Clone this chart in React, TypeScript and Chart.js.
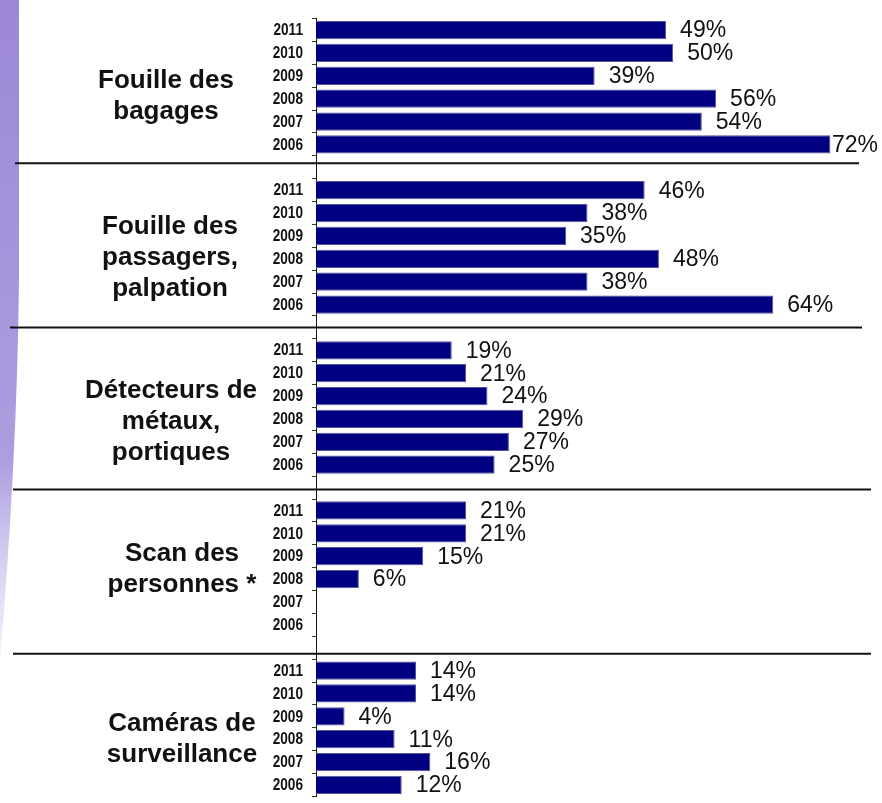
import React, { useEffect, useRef } from 'react';
import { Chart, registerables } from 'chart.js';

Chart.register(...registerables);

// ---------- data ----------
const years = ['2011', '2010', '2009', '2008', '2007', '2006'];
const groupLabels: string[][] = [
  ['Fouille des', 'bagages'],
  ['Fouille des', 'passagers,', 'palpation'],
  ['Détecteurs de', 'métaux,', 'portiques'],
  ['Scan des', 'personnes *'],
  ['Caméras de', 'surveillance'],
];
const fouilleBagages = [49, 50, 39, 56, 54, 72];
const fouillePassagers = [46, 38, 35, 48, 38, 64];
const detecteursMetaux = [19, 21, 24, 29, 27, 25];
const scanPersonnes = [21, 21, 15, 6, null, null];
const camerasSurveillance = [14, 14, 4, 11, 16, 12];
const seriesByGroup: (number | null)[][] = [
  fouilleBagages,
  fouillePassagers,
  detecteursMetaux,
  scanPersonnes,
  camerasSurveillance,
];

// ---------- layout (not data) ----------
const W = 882;
const H = 815;
const GROUP_SIZE = years.length + 1;
const labelCenterX = [166, 170, 171, 182, 182];
const labelBaselineOffset = [58, 44, 48, 51, 60];
const sepOffsetY = [-4, 0, 2, 6];
const sepX0 = [15, 10, 13, 13];
const sepX1 = [859, 862, 871, 871];

const SANS = "'Liberation Sans', Arial, Helvetica, sans-serif";

// build category table with blank separators
const categoryLabels: string[] = [];
const values: (number | null)[] = [];
seriesByGroup.forEach((vals, g) => {
  years.forEach((y, i) => {
    categoryLabels.push(y);
    values.push(vals[i]);
  });
  if (g < seriesByGroup.length - 1) {
    categoryLabels.push('');
    values.push(null);
  }
});

const decorPlugin = {
  id: 'decor',
  beforeDraw(chart: any) {
    const ctx = chart.ctx as CanvasRenderingContext2D;
    ctx.save();
    const grad = ctx.createLinearGradient(0, 0, 0, 660);
    grad.addColorStop(0, '#9c88d6');
    grad.addColorStop(0.7, '#ad9edf');
    grad.addColorStop(1, 'rgba(200,190,240,0.2)');
    ctx.fillStyle = grad;
    ctx.beginPath();
    ctx.moveTo(0, 0);
    ctx.lineTo(19, 0);
    ctx.lineTo(19, 280);
    ctx.quadraticCurveTo(17, 460, 0, 660);
    ctx.closePath();
    ctx.fill();
    ctx.restore();
  },
  afterDatasetsDraw(chart: any) {
    const ctx = chart.ctx as CanvasRenderingContext2D;
    const yScale = chart.scales.y;
    const meta = chart.getDatasetMeta(0);
    const data = chart.data.datasets[0].data as (number | null)[];
    const labels = chart.data.labels as string[];
    ctx.save();
    // condensed year tick labels
    ctx.font = `bold 17px ${SANS}`;
    ctx.fillStyle = '#111';
    ctx.textAlign = 'right';
    ctx.textBaseline = 'middle';
    const sx = 0.8;
    labels.forEach((lab, i) => {
      if (!lab) return;
      const y = yScale.getPixelForValue(i);
      ctx.save();
      ctx.translate(303, y + 0.5);
      ctx.scale(sx, 1);
      ctx.fillText(lab, 0, 0);
      ctx.restore();
    });
    // value labels
    ctx.font = `23px ${SANS}`;
    ctx.textAlign = 'left';
    meta.data.forEach((el: any, i: number) => {
      const v = data[i];
      if (v == null) return;
      const t = `${v}%`;
      const w = ctx.measureText(t).width;
      let x = el.x + 14;
      if (x + w > W - 4) x = W - 4 - w;
      ctx.fillText(t, x, el.y + 1);
    });
    // group labels
    ctx.font = `bold 26px ${SANS}`;
    ctx.textAlign = 'center';
    ctx.textBaseline = 'alphabetic';
    groupLabels.forEach((lines, g) => {
      const base = yScale.getPixelForValue(g * GROUP_SIZE) + labelBaselineOffset[g];
      lines.forEach((line, k) => {
        ctx.fillText(line, labelCenterX[g], base + k * 31);
      });
    });
    // separators
    ctx.strokeStyle = '#111';
    ctx.lineWidth = 2;
    for (let s = 0; s < seriesByGroup.length - 1; s++) {
      const y = yScale.getPixelForValue(s * GROUP_SIZE + years.length) + sepOffsetY[s];
      ctx.beginPath();
      ctx.moveTo(sepX0[s], y);
      ctx.lineTo(sepX1[s], y);
      ctx.stroke();
    }
    ctx.restore();
  },
};

export default function App() {
  const ref = useRef<HTMLCanvasElement | null>(null);
  useEffect(() => {
    if (!ref.current) return;
    const chart = new Chart(ref.current, {
      type: 'bar',
      data: {
        labels: categoryLabels,
        datasets: [
          {
            data: values as any,
            backgroundColor: '#000080',
            borderColor: '#55559a',
            borderWidth: 1,
            categoryPercentage: 1,
            barPercentage: 0.8,
          },
        ],
      },
      options: {
        indexAxis: 'y',
        responsive: false,
        animation: false,
        events: [],
        layout: { padding: { top: 11.7, bottom: 10, left: 0, right: 23 } },
        plugins: { legend: { display: false }, tooltip: { enabled: false }, title: { display: false } },
        scales: {
          x: { display: false, min: 0, max: 76 },
          y: {
            type: 'category',
            afterFit: (s: any) => {
              s.width = 316;
            },
            border: { display: true, color: '#111', width: 1 },
            grid: {
              display: true,
              offset: true,
              drawOnChartArea: false,
              drawTicks: true,
              tickLength: 4,
              color: '#333',
            },
            ticks: {
              autoSkip: false,
              padding: 9,
              color: 'rgba(0,0,0,0)',
              font: { family: SANS, size: 16, weight: 'bold' },
            },
          },
        },
      },
      plugins: [decorPlugin],
    });
    return () => chart.destroy();
  }, []);
  return (
    <div style={{ position: 'fixed', left: 0, top: 0, width: W, height: 803, overflow: 'hidden', background: '#fff' }}>
      <canvas ref={ref} width={W} height={H} style={{ display: 'block', width: W, height: H }} />
    </div>
  );
}
